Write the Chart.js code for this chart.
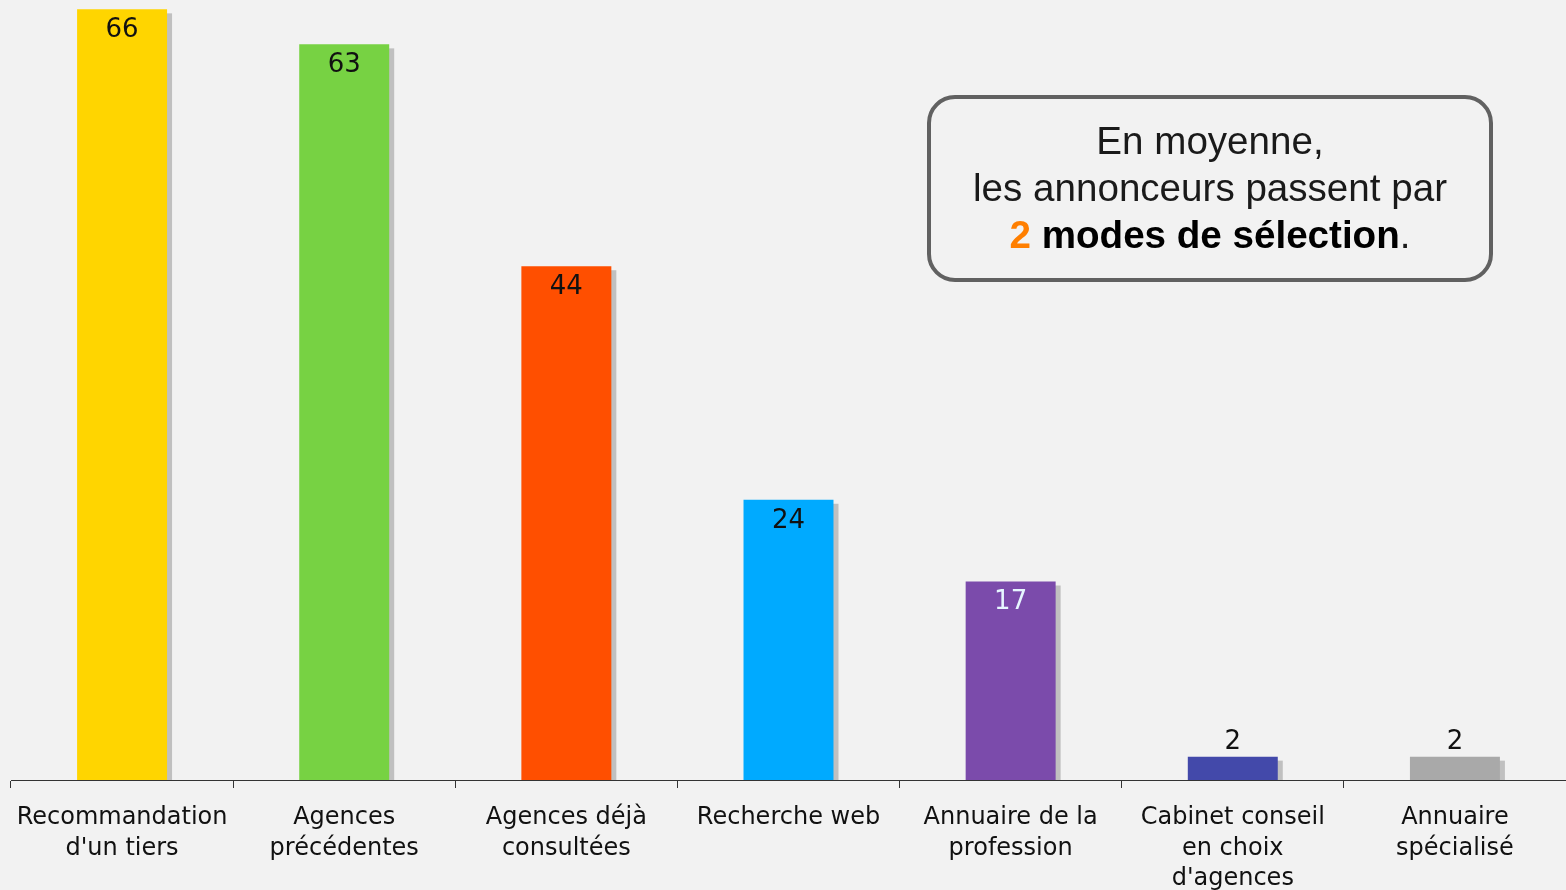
<!DOCTYPE html>
<html lang="fr">
<head>
<meta charset="utf-8">
<title>Modes de sélection des agences</title>
<script src="https://cdn.jsdelivr.net/npm/chart.js@4"></script>
<style>
  html, body { margin: 0; padding: 0; background: #f2f2f2; }
  #wrap { width: 1566px; height: 890px; }
</style>
</head>
<body>
<div id="wrap"><canvas id="modesChart" width="1566" height="890"></canvas></div>
<script>
// --- données ---
const categories = [
  ['Recommandation', "d'un tiers"],
  ['Agences', 'précédentes'],
  ['Agences déjà', 'consultées'],
  ['Recherche web'],
  ['Annuaire de la', 'profession'],
  ['Cabinet conseil', 'en choix', "d'agences"],
  ['Annuaire', 'spécialisé']
];
const values = [66, 63, 44, 24, 17, 2, 2];
const barColors = ['#ffd500', '#77d243', '#ff4f00', '#00aaff', '#7b4bab', '#4349aa', '#a9a9a9'];
const labelColors = ['#111', '#111', '#111', '#111', '#e6f6ff', '#111', '#111'];

const BG = '#f2f2f2';

// ombre grise décalée derrière chaque barre (arrêtée à l'axe)
const barShadow = {
  id: 'barShadow',
  beforeDatasetsDraw(chart) {
    const ctx = chart.ctx;
    const meta = chart.getDatasetMeta(0);
    ctx.save();
    ctx.fillStyle = '#c0c0c0';
    meta.data.forEach(bar => {
      const w = bar.width;
      ctx.fillRect(bar.x - w / 2 + 5, bar.y + 4, w, bar.base - bar.y - 4);
    });
    ctx.restore();
  }
};

// valeurs dans le haut de la barre, ou au-dessus si la barre est trop courte
const valueLabels = {
  id: 'valueLabels',
  afterDatasetsDraw(chart) {
    const ctx = chart.ctx;
    const meta = chart.getDatasetMeta(0);
    ctx.save();
    ctx.font = '26px "DejaVu Sans"';
    ctx.textAlign = 'center';
    ctx.textBaseline = 'middle';
    meta.data.forEach((bar, i) => {
      const h = bar.base - bar.y;
      const y = h > 40 ? bar.y + 21 : bar.y - 14;
      ctx.fillStyle = labelColors[i];
      ctx.fillText(String(values[i]), bar.x, y);
    });
    ctx.restore();
  }
};

// encadré de synthèse
const summaryBox = {
  id: 'summaryBox',
  afterDraw(chart) {
    const ctx = chart.ctx;
    const x = 929, y = 97, w = 562, h = 183, cx = x + w / 2;
    const size = 38.6;
    ctx.save();
    ctx.beginPath();
    ctx.roundRect(x, y, w, h, 26);
    ctx.fillStyle = BG;
    ctx.fill();
    ctx.lineWidth = 4;
    ctx.strokeStyle = '#616161';
    ctx.stroke();

    ctx.fillStyle = '#1a1a1a';
    ctx.textAlign = 'center';
    ctx.textBaseline = 'alphabetic';
    ctx.font = size + 'px "Liberation Sans"';
    ctx.fillText('En moyenne,', cx, 154);
    ctx.fillText('les annonceurs passent par', cx, 201);

    // troisième ligne : morceaux de styles différents, centrés ensemble
    const parts = [
      { t: '2', f: 'bold ' + size + 'px "Liberation Sans"', c: '#ff7f00' },
      { t: ' modes de sélection', f: 'bold ' + size + 'px "Liberation Sans"', c: '#000' },
      { t: '.', f: size + 'px "Liberation Sans"', c: '#1a1a1a' }
    ];
    let total = 0;
    parts.forEach(p => { ctx.font = p.f; p.w = ctx.measureText(p.t).width; total += p.w; });
    let px = cx - total / 2;
    ctx.textAlign = 'left';
    parts.forEach(p => {
      ctx.font = p.f;
      ctx.fillStyle = p.c;
      ctx.fillText(p.t, px, 248);
      px += p.w;
    });
    ctx.restore();
  }
};

new Chart(document.getElementById('modesChart'), {
  type: 'bar',
  data: {
    labels: categories,
    datasets: [{
      data: values,
      backgroundColor: barColors,
      borderWidth: 0,
      categoryPercentage: 1,
      barPercentage: 0.405
    }]
  },
  options: {
    responsive: false,
    animation: false,
    devicePixelRatio: 1,
    layout: { padding: { left: 11, right: 0, top: 0, bottom: 0 } },
    plugins: { legend: { display: false }, tooltip: { enabled: false } },
    scales: {
      x: {
        grid: { display: true, drawOnChartArea: false, drawTicks: true, tickLength: 8, color: '#333' },
        border: { display: true, color: '#333', width: 1 },
        ticks: {
          color: '#111',
          padding: 15,
          maxRotation: 0,
          autoSkip: false,
          font: { family: '"DejaVu Sans"', size: 24, lineHeight: 1.27 }
        },
        afterFit(scale) { scale.height = 110; }
      },
      y: {
        display: false,
        min: 0,
        max: 66.8
      }
    }
  },
  plugins: [barShadow, valueLabels, summaryBox]
});
</script>
</body>
</html>
